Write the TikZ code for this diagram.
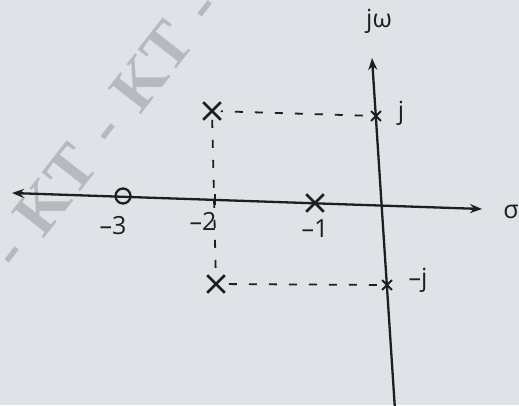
\documentclass[tikz,border=0pt]{standalone}
\usepackage{fontspec}
\setmainfont{Open Sans}
\newfontfamily\wmfont{Liberation Serif}
\usetikzlibrary{shapes.misc,arrows.meta}
\definecolor{paper}{HTML}{DFE3E8}
\definecolor{ink}{HTML}{1E1E1E}
\definecolor{wmgray}{HTML}{B6B9BD}
\begin{document}
\begin{tikzpicture}[x=1pt,y=-1pt,
  >={Stealth[length=12pt,width=9pt]},
  axisline/.style={draw=ink,line width=2.3pt},
  pole/.style={cross out,draw=ink,line width=2.6pt,minimum size=15pt,inner sep=0pt},
  smallpole/.style={cross out,draw=ink,line width=1.8pt,minimum size=8pt,inner sep=0pt},
  zero/.style={circle,draw=ink,line width=2.3pt,minimum size=15pt,inner sep=0pt},
  guide/.style={draw=ink,line width=1.8pt,dash pattern=on 8pt off 12pt},
  lbl/.style={text=ink,font=\fontsize{25}{25}\selectfont,inner sep=0pt},
  wm/.style={text=wmgray,font=\wmfont\bfseries\fontsize{64}{64}\selectfont,rotate=52,inner sep=0pt}]
\fill[paper] (0,0) rectangle (519,405);
\useasboundingbox (0,0) rectangle (519,405);
% watermark
\node[wm] (wmark) at (104,128) {KT\,\,-\,\,KT\,\,-\,\,KT\,\,-\,\,KT};
% axes
\coordinate (hl) at (12,193);
\coordinate (hr) at (482,209);
\coordinate (vt) at (372,58);
\coordinate (vb) at (395,410);
\draw[axisline,<->] (hl) -- (hr);
\draw[axisline,->] (vb) -- (vt);
% poles and zeros
\node[zero] (z3) at (123,196) {};
\node[pole] (p1) at (315,203) {};
\node[pole] (pu) at (212,111) {};
\node[pole] (pl) at (216,284) {};
\node[smallpole] (ju) at (376,116) {};
\node[smallpole] (jl) at (387,285) {};
\coordinate (m2t) at (215,194);
\coordinate (m2b) at (215,205);
\draw[ink,line width=1.8pt] (m2t) -- (m2b);
% dashed guides
\draw[guide,dash phase=-14pt] (pu) -- (ju);
\draw[guide] (pu) -- (pl);
\draw[guide,dash phase=-4pt] (pl) -- (jl);
% labels
\node[lbl] (l3) at (113,226) {--3};
\node[lbl] (l2) at (203,221) {--2};
\node[lbl] (l1) at (315,229) {--1};
\node[lbl] (sig) at (511,212) {σ};
\node[lbl] (jw) at (379,21) {jω};
\node[lbl] (lj) at (401,113) {j};
\node[lbl] (lmj) at (418,280) {--j};
\end{tikzpicture}
\end{document}
